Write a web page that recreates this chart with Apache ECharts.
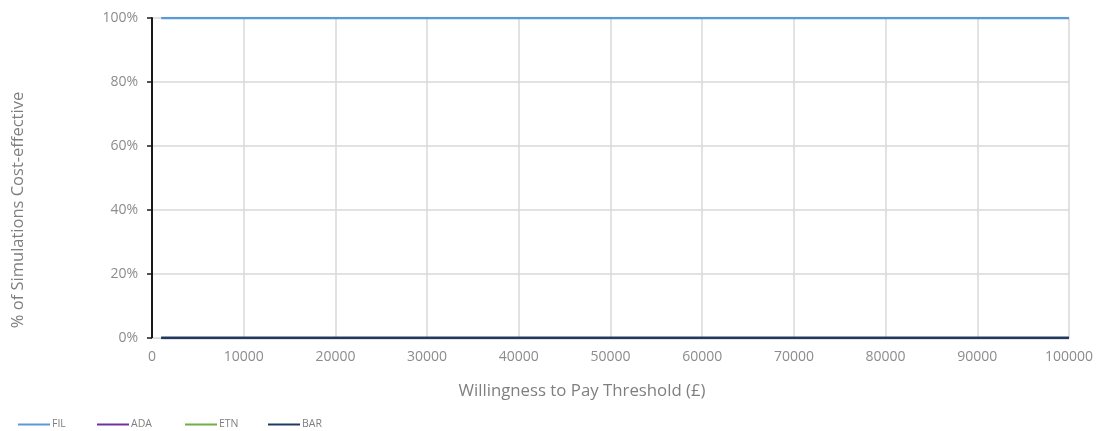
<!DOCTYPE html>
<html>
<head>
<meta charset="utf-8">
<script src="https://cdn.jsdelivr.net/npm/echarts@6/dist/echarts.min.js"></script>
<style>
html,body{margin:0;padding:0;background:#fff;}
#chart{width:1097px;height:431px;}
</style>
</head>
<body>
<div id="chart"></div>
<script>
const thresholds = [1000, 10000, 20000, 30000, 40000, 50000, 60000, 70000, 80000, 90000, 100000];
const FIL = [1, 1, 1, 1, 1, 1, 1, 1, 1, 1, 1];
const ADA = [0, 0, 0, 0, 0, 0, 0, 0, 0, 0, 0];
const ETN = [0, 0, 0, 0, 0, 0, 0, 0, 0, 0, 0];
const BAR = [0, 0, 0, 0, 0, 0, 0, 0, 0, 0, 0];
const seriesNames = ['FIL', 'ADA', 'ETN', 'BAR'];
const seriesValues = [FIL, ADA, ETN, BAR];
const colors = ['#5b9bd5', '#7030a0', '#70ad47', '#203864'];
const xTitle = 'Willingness to Pay Threshold (£)';
const yTitle = '% of Simulations Cost-effective';

const font = '"Open Sans", "Liberation Sans", sans-serif';
const chart = echarts.init(document.getElementById('chart'), null, {renderer: 'canvas'});

const legendLefts = [18, 97, 185, 268];
const legends = seriesNames.map((n, i) => ({
  data: [{name: n, icon: 'rect'}],
  left: legendLefts[i],
  top: 419,
  itemWidth: 32,
  itemHeight: 2,
  itemGap: 2,
  padding: 0,
  textStyle: {fontFamily: font, fontSize: 10.5, color: '#7f7f7f', padding: [0, 0, 0, -3]}
}));

chart.setOption({
  animation: false,
  color: colors,
  legend: legends,
  grid: {left: 152, right: 28, top: 18, bottom: 93, containLabel: false},
  graphic: [
    {type: 'text', x: 582, y: 391,
     style: {text: xTitle, font: '16.8px ' + font, fill: '#7f7f7f', textAlign: 'center', textVerticalAlign: 'middle'}},
    {type: 'text', rotation: Math.PI / 2, x: 18, y: 210,
     style: {text: yTitle, font: '16.5px ' + font, fill: '#7f7f7f', textAlign: 'center', textVerticalAlign: 'middle'}}
  ],
  xAxis: {
    type: 'value',
    min: 0, max: 100000, interval: 10000,
    axisLine: {show: true, lineStyle: {color: '#d9d9d9', width: 1}},
    axisTick: {show: false},
    axisLabel: {fontFamily: font, fontSize: 14, color: '#8c8c8c', margin: 12,
      formatter: v => String(v)},
    splitLine: {show: true, lineStyle: {color: '#d9d9d9', width: 1.5}}
  },
  yAxis: {
    type: 'value',
    min: 0, max: 1, interval: 0.2,
    axisLine: {show: true, lineStyle: {color: '#1a1a1a', width: 2}},
    axisTick: {show: true, length: 5, lineStyle: {color: '#1a1a1a', width: 1.5}},
    axisLabel: {fontFamily: font, fontSize: 14, color: '#8c8c8c', margin: 14,
      formatter: v => Math.round(v * 100) + '%'},
    splitLine: {show: true, lineStyle: {color: '#d9d9d9', width: 1.5}}
  },
  series: seriesNames.map((n, i) => ({
    name: n,
    type: 'line',
    data: thresholds.map((x, j) => [x, seriesValues[i][j]]),
    showSymbol: false,
    symbol: 'none',
    lineStyle: {width: 2.5, color: colors[i]},
    itemStyle: {color: colors[i]},
    z: 3 + i
  }))
});
</script>
</body>
</html>
